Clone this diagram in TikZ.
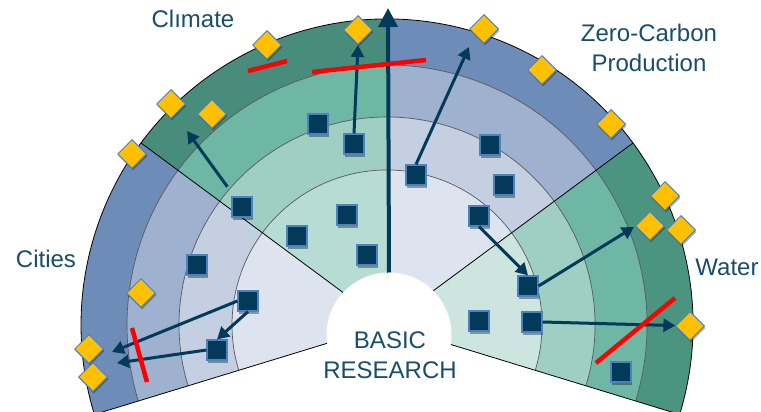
\documentclass[tikz,border=0pt]{standalone}
\usepackage{fontspec}
\setmainfont{Liberation Sans}
\usetikzlibrary{arrows.meta,positioning,shapes.geometric,shadows}

\definecolor{cities1}{RGB}{222,228,239}
\definecolor{cities2}{RGB}{196,207,226}
\definecolor{cities3}{RGB}{158,177,207}
\definecolor{cities4}{RGB}{110,140,184}
\colorlet{carbon1}{cities1}
\colorlet{carbon2}{cities2}
\colorlet{carbon3}{cities3}
\colorlet{carbon4}{cities4}
\definecolor{climate1}{RGB}{183,220,211}
\definecolor{climate2}{RGB}{158,207,194}
\definecolor{climate3}{RGB}{110,183,165}
\definecolor{climate4}{RGB}{72,141,123}
\definecolor{water1}{RGB}{204,229,223}
\colorlet{water2}{climate2}
\colorlet{water3}{climate3}
\definecolor{water4}{RGB}{75,149,128}
\definecolor{navy}{RGB}{3,58,90}
\definecolor{frame}{RGB}{79,129,189}
\definecolor{gold}{RGB}{255,192,0}
\definecolor{ink}{RGB}{24,77,107}

\tikzset{
  task/.style={rectangle, draw=frame, line width=1.2pt, fill=navy,
    minimum size=20pt, inner sep=0pt,
    drop shadow={shadow xshift=1pt, shadow yshift=-2.5pt, fill=black, opacity=.35}},
  mile/.style={diamond, aspect=1, draw=frame, line width=1pt, fill=gold,
    minimum width=29pt, minimum height=29pt, inner sep=0pt,
    drop shadow={shadow xshift=1pt, shadow yshift=-2pt, fill=black, opacity=.3}},
  flow/.style={draw=navy, line width=3pt, -{Triangle[length=12pt,width=13pt]}},
  spine/.style={draw=navy, line width=4pt, -{Triangle[length=19pt,width=19pt]}},
  cut/.style={draw=red, line width=4.5pt},
  seam/.style={draw=black!65, line width=.7pt},
  rim/.style={draw=black, line width=.8pt},
  heading/.style={text=ink, font=\fontsize{24}{30}\selectfont, align=center, inner sep=0pt}
}

\begin{document}
\begin{tikzpicture}[x=1pt,y=-1pt]
  \fill[white, use as bounding box] (0,0) rectangle (761,412);
  \coordinate (o) at (387,325);

  % sectors, ring by ring
  \foreach \a/\b/\s in {-36.5/17/water, -90/-36.5/carbon, -143.5/-90/climate, -197/-143.5/cities}
    \foreach \r/\R/\k in {1/155/1, 155/208/2, 208/260/3, 260/306/4}
      \fill[\s\k] ([shift={(\a:\R)}]o) arc[start angle=\a, end angle=\b, radius=\R]
        -- ([shift={(\b:\r)}]o) arc[start angle=\b, end angle=\a, radius=\r] -- cycle;

  \foreach \r in {155,208,260}
    \draw[seam] ([shift={(17:\r)}]o) arc[start angle=17, end angle=-197, radius=\r];
  \draw[rim] ([shift={(17:306)}]o) arc[start angle=17, end angle=-197, radius=306];
  \foreach \a in {17,-36.5,-90,-143.5,-197}
    \draw[rim] (o) -- ++(\a:306);

  \node[circle, fill=white, minimum size=125pt, inner sep=0pt] (hub) at (389,335) {};

  % labels
  \node[heading] (basic) at (390,355) {BASIC\\RESEARCH};
  \node[heading] (climate) at (193,19) {Clımate};
  \node[heading] (carbon) at (649,48) {Zero-Carbon\\Production};
  \node[heading] (cities) at (46,259) {Cities};
  \node[heading] (water) at (727,267) {Water};

  % projects and milestones
  \foreach \n/\x/\y in {1/318/124, 2/354/144, 3/242/207, 4/347/215, 5/297/236,
      6/367/255, 7/197/265, 8/248/301, 9/217/350, 10/416/175, 11/490/145,
      12/504/185, 13/479/216, 14/528/286, 15/479/321, 16/532/322, 17/621/372}
    \node[task] (s\n) at (\x,\y) {};
  \foreach \n/\x/\y in {1/267/45, 2/358/30, 3/171/104, 4/212/114, 5/132/154,
      6/484/29, 7/542/70, 8/611/124, 9/665/196, 10/650/226, 11/681/230,
      12/141/293, 13/89/349, 14/93/377, 15/690/326}
    \node[mile] (d\n) at (\x,\y) {};

  % free arrow ends
  \coordinate (tip1) at (388,8);
  \coordinate (tip3) at (187,131);
  \coordinate (tip4) at (469,47);
  \coordinate (tip6) at (634,227);
  \coordinate (tip8) at (112,352);
  \coordinate (tip10) at (117,363);

  \draw[spine] (hub.north) -- (tip1);
  \draw[flow] (s2.north) -- (d2.south);
  \draw[flow, shorten <=12pt] (s3) -- (tip3);
  \draw[flow] (s10.north) -- (tip4);
  \draw[flow] (s13.south) -- (s14.north);
  \draw[flow] (s14.east) -- (tip6);
  \draw[flow] (s16.east) -- (d15);
  \draw[flow] (s8.west) -- (tip8);
  \draw[flow] (s8.south) -- (s9.north);
  \draw[flow] (s9.west) -- (tip10);

  % red bars
  \coordinate (r1a) at (248,71);  \coordinate (r1b) at (287,61);
  \coordinate (r2a) at (312,72);  \coordinate (r2b) at (426,60);
  \coordinate (r3a) at (132,328); \coordinate (r3b) at (147,382);
  \coordinate (r4a) at (596,363); \coordinate (r4b) at (675,298);
  \foreach \c in {1,2,3,4}
    \draw[cut] (r\c a) -- (r\c b);
\end{tikzpicture}
\end{document}
